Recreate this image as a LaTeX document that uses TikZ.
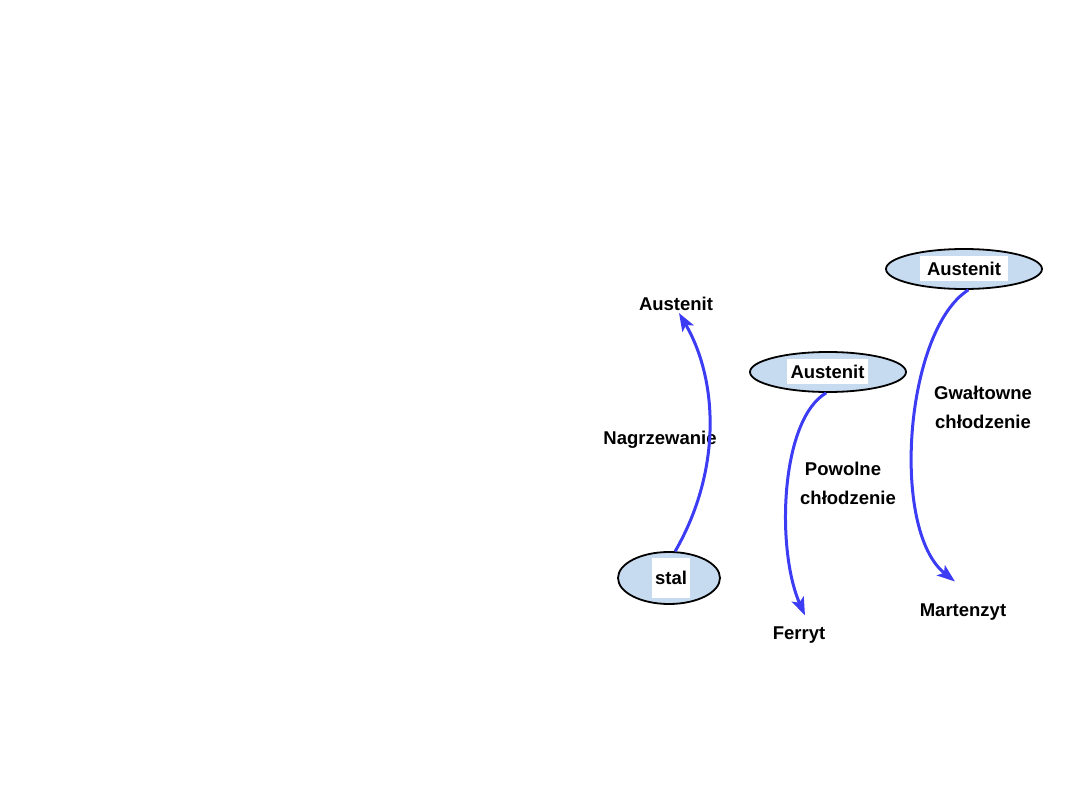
\documentclass[tikz,border=0pt]{standalone}
\usepackage{fontspec}
\setmainfont{Liberation Sans}
\usetikzlibrary{shapes.geometric,arrows.meta}
\definecolor{arrowblue}{RGB}{60,60,245}
\definecolor{ellfill}{RGB}{198,218,240}
\tikzset{
  ell/.style={ellipse, draw=black, line width=1.8pt, fill=ellfill, inner sep=0pt},
  wbox/.style={fill=white, inner sep=0pt, font=\fontsize{18.5}{22}\selectfont\bfseries},
  lbl/.style={inner sep=0pt, font=\fontsize{18.5}{29}\selectfont\bfseries, align=center},
  conn/.style={draw=arrowblue, line width=3pt, -{Stealth[length=18pt,width=13pt,inset=4pt]}}
}
\begin{document}
\begin{tikzpicture}[x=1pt,y=-1pt]
\useasboundingbox (0,0) rectangle (1080,810);
% nodes
\node[ell, minimum width=102pt, minimum height=52pt] (stalE) at (669,578) {};
\node[wbox, minimum width=38pt, minimum height=40pt] (stal) at (671,578) {stal};
\node[lbl] (aus1) at (676,304) {Austenit};

\node[ell, minimum width=156pt, minimum height=40pt] (aus2E) at (828,372) {};
\node[wbox, minimum width=81pt, minimum height=25pt] (aus2) at (827.5,372) {Austenit};
\node[lbl] (ferryt) at (799,635) {Ferryt};

\node[ell, minimum width=156pt, minimum height=40pt] (aus3E) at (964,269) {};
\node[wbox, minimum width=88pt, minimum height=25pt] (aus3) at (964,269) {Austenit};
\node[lbl] (mart) at (963,612) {Martenzyt};

% labels
\node[lbl] (l1) at (660,440) {Nagrzewanie};
\node[lbl] (l2) at (843,483) {Powolne\\\hspace*{10pt}chłodzenie};
\node[lbl] (l3) at (983,407) {Gwałtowne\\chłodzenie};

% connectors
\draw[conn] (stalE.77) .. controls (722,470) and (718,380) .. ([xshift=3pt,yshift=-2pt]aus1.south);
\draw[conn] (aus2E.265) .. controls (780,420) and (776,550) .. ([xshift=6pt,yshift=11pt]ferryt.north);
\draw[conn] (aus3E.282) .. controls (905,330) and (890,530) .. ([xshift=-8pt,yshift=22pt]mart.north);
\end{tikzpicture}
\end{document}
